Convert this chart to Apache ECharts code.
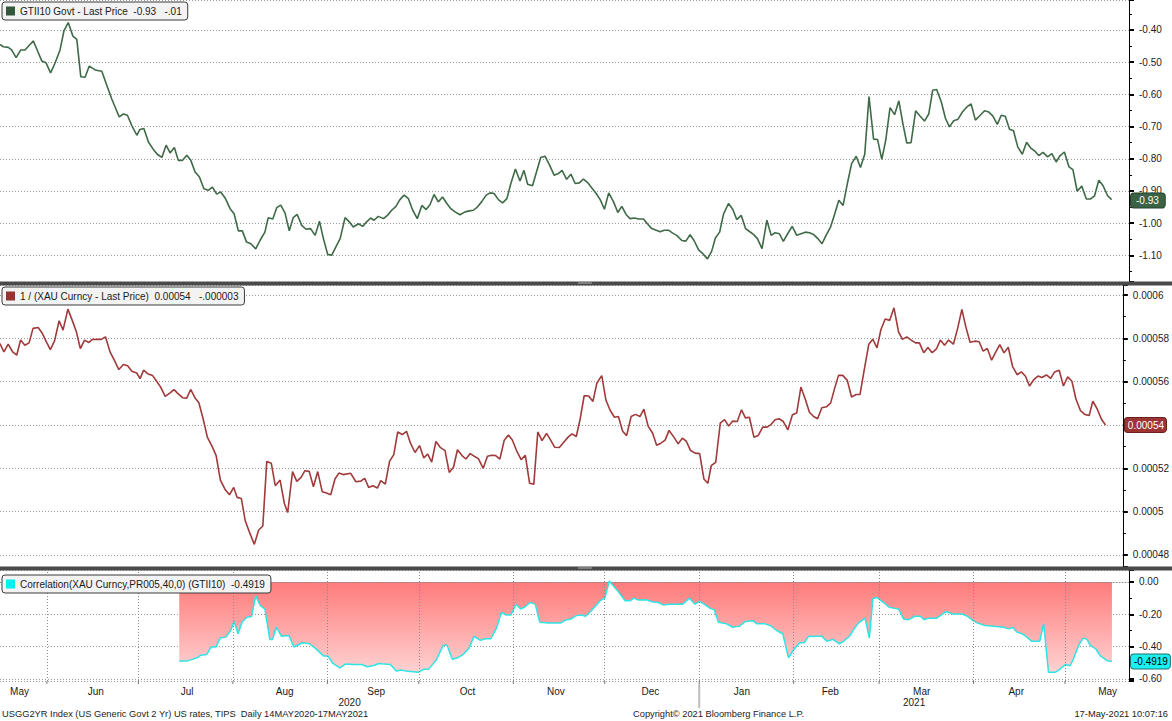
<!DOCTYPE html>
<html><head><meta charset="utf-8">
<script src="https://cdn.jsdelivr.net/npm/echarts@6.0.0/dist/echarts.min.js"></script>
<style>html,body{margin:0;padding:0;background:#fff}#c{width:1172px;height:721px}</style>
</head><body><div id="c"></div>
<script>
const DAY = 86400000;
// x values below are calendar days after 14 May 2020
const BASE = Date.UTC(2020, 4, 14);

// GTII10 Govt - Last Price  [day offset, value]
const gtii = [[2.6,-0.445],[3.7,-0.452],[5.3,-0.454],[6.4,-0.462],[7.9,-0.486],[9.4,-0.462],[10.8,-0.462],[13.5,-0.434],[14.8,-0.462],[16.3,-0.496],[17.7,-0.502],[19.2,-0.533],[20.6,-0.504],[22.3,-0.462],[23.6,-0.402],[25.0,-0.377],[26.5,-0.419],[27.8,-0.429],[29.1,-0.545],[30.5,-0.547],[31.9,-0.512],[33.8,-0.524],[36.0,-0.528],[37.6,-0.571],[39.2,-0.613],[40.7,-0.647],[41.7,-0.670],[43.1,-0.661],[44.4,-0.665],[45.8,-0.696],[47.5,-0.727],[48.5,-0.709],[49.8,-0.706],[51.3,-0.748],[52.9,-0.771],[54.2,-0.786],[55.7,-0.796],[57.1,-0.758],[58.4,-0.782],[59.8,-0.765],[61.1,-0.805],[62.5,-0.805],[63.9,-0.789],[65.2,-0.805],[66.6,-0.841],[68.0,-0.856],[69.5,-0.893],[70.9,-0.898],[72.3,-0.888],[73.7,-0.910],[75.0,-0.903],[76.4,-0.921],[78.1,-0.955],[79.4,-0.971],[80.8,-1.024],[82.1,-1.024],[83.5,-1.059],[84.9,-1.064],[86.5,-1.080],[87.9,-1.054],[89.5,-1.028],[90.6,-0.983],[92.1,-0.987],[93.4,-0.952],[94.7,-0.944],[96.1,-0.968],[97.5,-1.024],[98.8,-0.983],[100.1,-0.973],[101.6,-1.007],[103.0,-1.019],[104.5,-1.017],[106.0,-1.038],[107.4,-0.994],[108.7,-1.048],[110.1,-1.097],[111.4,-1.100],[112.8,-1.074],[114.2,-1.048],[115.8,-0.983],[117.2,-0.996],[118.5,-1.012],[120.2,-1.002],[121.6,-1.010],[122.9,-0.996],[124.2,-0.984],
[125.3,-0.991],[126.7,-0.979],[128.4,-0.986],[129.7,-0.976],[131.1,-0.960],[132.5,-0.948],[133.8,-0.927],[135.2,-0.913],[136.6,-0.924],[138.0,-0.960],[139.5,-0.986],[141.0,-0.945],[142.4,-0.958],[143.7,-0.942],[145.0,-0.911],[146.4,-0.934],[147.8,-0.919],[149.2,-0.939],[150.5,-0.955],[151.9,-0.965],[153.5,-0.974],[155.2,-0.965],[156.6,-0.962],[157.9,-0.960],[159.2,-0.950],[160.6,-0.934],[162.1,-0.913],[163.4,-0.906],[164.7,-0.908],[166.1,-0.927],[167.5,-0.937],[168.9,-0.924],[170.2,-0.877],[171.7,-0.832],[173.2,-0.869],[174.5,-0.836],[175.7,-0.879],[177.3,-0.884],[178.7,-0.838],[180.0,-0.796],[181.4,-0.792],[182.9,-0.820],[184.4,-0.851],[185.8,-0.846],[187.0,-0.836],[188.5,-0.864],[189.9,-0.848],[191.3,-0.877],[192.7,-0.875],[194.0,-0.863],[195.4,-0.874],[196.7,-0.890],[198.2,-0.908],[199.5,-0.927],[200.9,-0.957],[202.3,-0.906],[203.9,-0.934],[205.3,-0.967],[206.6,-0.948],[208.0,-0.973],[209.3,-0.986],[210.8,-0.984],[212.1,-0.987],[213.7,-0.987],[215.0,-1.002],[216.4,-1.017],[217.9,-1.022],[219.2,-1.027],[220.5,-1.022],[221.9,-1.022],[223.3,-1.031],[224.6,-1.038],[226.3,-1.054],[227.6,-1.056],[229.0,-1.036],[230.3,-1.054],[231.8,-1.083],[233.2,-1.095],[234.7,-1.111],[236.1,-1.087],[237.3,-1.046],[238.7,-1.028],[240.0,-0.971],[241.6,-0.939],[243.0,-0.957],[244.3,-0.989],[245.8,-0.976],[247.2,-1.017],[248.5,-1.026],
[249.8,-1.035],[251.1,-1.048],[252.6,-1.079],[254.2,-0.991],[255.6,-1.038],[256.9,-1.030],[258.3,-1.033],[259.6,-1.057],[261.0,-1.033],[262.5,-1.010],[264.0,-1.038],[265.4,-1.033],[266.8,-1.028],[268.2,-1.030],[269.5,-1.035],[270.9,-1.048],[272.3,-1.064],[273.6,-1.038],[275.0,-1.014],[276.4,-0.973],[277.8,-0.929],[279.2,-0.945],[280.6,-0.877],[282.0,-0.815],[283.5,-0.792],[284.9,-0.827],[286.3,-0.786],[287.7,-0.607],[289.2,-0.739],[290.5,-0.740],[291.9,-0.802],[293.2,-0.742],[294.6,-0.641],[296.1,-0.663],[297.5,-0.620],[298.8,-0.690],[300.1,-0.751],[301.5,-0.750],[303.0,-0.651],[304.5,-0.668],[305.9,-0.683],[307.3,-0.661],[308.6,-0.587],[309.9,-0.585],[311.4,-0.623],[312.8,-0.675],[314.1,-0.701],[315.5,-0.682],[316.9,-0.677],[318.4,-0.654],[319.8,-0.639],[321.2,-0.630],[322.6,-0.680],[324.2,-0.665],[325.6,-0.651],[327.0,-0.655],[328.3,-0.667],[329.8,-0.693],[331.1,-0.665],[332.4,-0.668],[333.8,-0.708],[335.1,-0.713],[336.5,-0.763],[338.0,-0.786],[339.4,-0.749],[340.7,-0.766],[342.1,-0.776],[343.4,-0.790],[344.8,-0.780],[346.3,-0.794],[347.7,-0.784],[349.1,-0.810],[350.4,-0.790],[351.8,-0.779],[353.3,-0.825],[354.6,-0.834],[356.0,-0.901],[357.5,-0.885],[359.0,-0.925],[360.4,-0.925],[361.7,-0.915],[363.1,-0.867],[364.5,-0.884],[366.0,-0.915],[367.3,-0.927]];

// 1 / (XAU Curncy - Last Price)  [day offset, value]
const xau = [[2.6,0.0005776],[3.9,0.0005737],[5.3,0.0005773],[6.8,0.0005737],[8.1,0.0005722],[9.4,0.0005792],[10.8,0.0005768],[12.2,0.0005779],[13.5,0.0005846],[15.2,0.0005850],[16.6,0.0005822],[17.9,0.0005784],[19.2,0.0005748],[20.6,0.0005788],[22.1,0.0005881],[23.4,0.0005838],[25.0,0.0005935],[26.4,0.0005884],[27.8,0.0005830],[29.1,0.0005753],[30.5,0.0005792],[31.9,0.0005781],[33.2,0.0005796],[34.6,0.0005795],[36.0,0.0005795],[37.4,0.0005807],[38.9,0.0005737],[40.3,0.0005699],[41.8,0.0005656],[43.3,0.0005679],[44.7,0.0005673],[46.1,0.0005648],[47.7,0.0005640],[48.8,0.0005614],[50.0,0.0005653],[51.3,0.0005637],[52.9,0.0005629],[54.2,0.0005603],[55.6,0.0005575],[57.1,0.0005532],[58.6,0.0005547],[60.0,0.0005563],[61.4,0.0005544],[62.8,0.0005526],[64.2,0.0005524],[65.5,0.0005564],[66.9,0.0005526],[68.2,0.0005503],[69.6,0.0005429],[71.0,0.0005344],[72.6,0.0005300],[73.9,0.0005259],[75.3,0.0005146],[76.8,0.0005104],[78.3,0.0005078],[79.7,0.0005112],[80.8,0.0005066],[82.2,0.0005061],[83.5,0.0004958],[84.8,0.0004908],[86.5,0.0004849],[87.9,0.0004914],[89.3,0.0004934],[90.6,0.0005232],[92.1,0.0005223],[93.4,0.0005120],[95.0,0.0005146],[96.4,0.0005038],[97.5,0.0004996],[99.1,0.0005185],[100.5,0.0005140],[101.9,0.0005158],[103.2,0.0005189],[104.6,0.0005186],[106.0,0.0005115],[107.4,0.0005185],[108.9,0.0005092],[110.3,0.0005086],[111.7,0.0005078],[113.1,0.0005151],[114.4,0.0005178],[115.8,0.0005171],[118.3,0.0005177],[120.0,0.0005138],[121.6,0.0005141],[122.9,0.0005154],[124.2,0.0005112],[125.6,0.0005120],[127.1,0.0005109],
[128.2,0.0005143],[129.7,0.0005127],[131.1,0.0005232],[132.5,0.0005263],[133.8,0.0005368],[135.3,0.0005356],[136.7,0.0005371],[138.0,0.0005316],[139.5,0.0005273],[141.0,0.0005305],[142.4,0.0005248],[143.7,0.0005266],[145.0,0.0005229],[146.4,0.0005324],[147.8,0.0005297],[149.4,0.0005282],[150.8,0.0005181],[152.2,0.0005205],[153.5,0.0005286],[155.0,0.0005259],[156.3,0.0005243],[157.7,0.0005268],[159.0,0.0005256],[160.4,0.0005245],[162.0,0.0005200],[163.4,0.0005256],[164.8,0.0005260],[166.1,0.0005259],[167.5,0.0005243],[168.9,0.0005328],[170.3,0.0005354],[171.6,0.0005331],[173.0,0.0005282],[174.5,0.0005240],[175.9,0.0005260],[177.3,0.0005131],[178.7,0.0005127],[180.0,0.0005368],[181.4,0.0005328],[182.9,0.0005361],[184.2,0.0005331],[185.6,0.0005297],[187.1,0.0005296],[188.5,0.0005319],[190.0,0.0005344],[191.3,0.0005359],[192.7,0.0005347],[194.0,0.0005429],[195.3,0.0005535],[196.8,0.0005534],[198.2,0.0005509],[199.5,0.0005594],[201.1,0.0005628],[202.5,0.0005514],[203.9,0.0005467],[205.3,0.0005436],[206.6,0.0005439],[208.0,0.0005371],[209.3,0.0005351],[210.8,0.0005439],[212.2,0.0005449],[213.7,0.0005439],[215.0,0.0005473],[216.4,0.0005395],[217.9,0.0005362],[219.2,0.0005307],[220.6,0.0005316],[222.0,0.0005330],[223.3,0.0005375],[224.9,0.0005344],[226.3,0.0005313],[227.7,0.0005339],[229.0,0.0005325],[230.4,0.0005282],[231.9,0.0005270],[233.4,0.0005268],[234.8,0.0005151],[236.1,0.0005131],[237.2,0.0005212],[238.7,0.0005228],[240.2,0.0005409],[241.6,0.0005425],[243.0,0.0005395],[244.3,0.0005418],[245.8,0.0005416],[247.2,0.0005470],[248.5,0.0005433],
[249.8,0.0005436],[251.3,0.0005344],[252.7,0.0005351],[254.2,0.0005390],[255.6,0.0005390],[256.9,0.0005402],[258.3,0.0005424],[259.6,0.0005429],[261.0,0.0005416],[262.5,0.0005378],[264.0,0.0005447],[265.4,0.0005455],[266.8,0.0005575],[268.3,0.0005517],[269.6,0.0005459],[271.0,0.0005439],[272.3,0.0005429],[273.7,0.0005480],[275.2,0.0005484],[276.6,0.0005501],[277.9,0.0005568],[279.2,0.0005629],[280.6,0.0005629],[282.1,0.0005606],[283.5,0.0005529],[285.0,0.0005541],[286.3,0.0005541],[287.7,0.0005656],[289.2,0.0005773],[290.5,0.0005796],[291.9,0.0005756],[293.2,0.0005841],[294.6,0.0005889],[296.1,0.0005883],[297.5,0.0005941],[299.0,0.0005830],[300.3,0.0005795],[301.7,0.0005807],[303.2,0.0005792],[304.6,0.0005779],[305.9,0.0005779],[307.3,0.0005734],[308.7,0.0005758],[310.1,0.0005734],[311.5,0.0005751],[312.8,0.0005792],[314.2,0.0005768],[315.5,0.0005792],[317.1,0.0005773],[318.5,0.0005846],[319.9,0.0005934],[321.2,0.0005853],[322.6,0.0005782],[324.2,0.0005787],[325.6,0.0005784],[326.9,0.0005741],[328.3,0.0005753],[329.7,0.0005699],[331.1,0.0005737],[332.4,0.0005771],[333.8,0.0005733],[335.2,0.0005759],[336.6,0.0005671],[338.1,0.0005632],[339.5,0.0005645],[340.9,0.0005625],[342.2,0.0005580],[343.6,0.0005609],[345.0,0.0005626],[346.3,0.0005619],[347.8,0.0005631],[349.2,0.0005615],[350.5,0.0005645],[352.0,0.0005653],[353.4,0.0005580],[354.8,0.0005622],[356.2,0.0005602],[357.5,0.0005521],[359.0,0.0005467],[360.4,0.0005449],[361.9,0.0005444],[363.1,0.0005510],[364.5,0.0005475],[366.0,0.0005425],[367.3,0.0005400]];

// Correlation(XAU Curncy,PR005,40,0) (GTII10)  [day offset, value]
const corr = [[61.4,-0.488],[64.1,-0.488],[65.4,-0.480],[67.3,-0.469],[68.5,-0.453],[70.4,-0.449],[71.9,-0.402],[73.5,-0.402],[74.8,-0.347],[76.7,-0.341],[78.3,-0.300],[79.4,-0.245],[80.7,-0.320],[82.0,-0.249],[83.6,-0.218],[85.1,-0.214],[86.5,-0.086],[88.0,-0.147],[89.5,-0.167],[91.1,-0.355],[92.0,-0.355],[93.3,-0.280],[94.9,-0.335],[97.4,-0.331],[99.0,-0.402],[101.8,-0.376],[104.1,-0.382],[106.2,-0.412],[108.7,-0.457],[110.2,-0.457],[111.8,-0.504],[114.1,-0.531],[115.9,-0.508],[118.8,-0.510],[121.3,-0.510],[123.1,-0.524],[125.0,-0.518],[126.9,-0.504],[128.8,-0.508],[130.7,-0.510],[132.6,-0.551],[134.4,-0.545],[135.7,-0.551],[138.2,-0.555],[139.8,-0.559],[141.7,-0.539],[143.2,-0.539],[145.7,-0.484],[148.0,-0.392],[149.3,-0.392],[151.0,-0.478],[152.7,-0.469],[154.5,-0.449],[156.4,-0.412],[158.1,-0.337],[160.2,-0.361],[161.8,-0.351],[163.6,-0.351],[165.5,-0.286],[167.1,-0.188],[168.6,-0.204],[170.2,-0.204],[171.9,-0.137],[173.4,-0.167],[174.9,-0.153],[176.5,-0.127],[178.2,-0.137],[179.7,-0.249],[182.4,-0.253],[186.6,-0.253],[188.2,-0.235],[189.9,-0.229],[191.6,-0.208],[193.5,-0.204],[194.7,-0.212],[196.6,-0.178],
[199.5,-0.116],[201.1,-0.096],[202.5,0.006],[203.8,-0.024],[205.5,-0.061],[207.7,-0.116],[209.3,-0.116],[210.6,-0.100],[212.0,-0.112],[214.8,-0.110],[216.4,-0.122],[218.6,-0.127],[220.3,-0.143],[221.9,-0.137],[224.6,-0.137],[226.6,-0.137],[228.8,-0.100],[230.6,-0.137],[232.1,-0.120],[233.6,-0.137],[235.6,-0.163],[236.9,-0.171],[238.3,-0.249],[241.0,-0.259],[243.0,-0.280],[245.2,-0.273],[247.1,-0.245],[249.6,-0.239],[250.9,-0.259],[253.6,-0.259],[255.3,-0.269],[257.4,-0.300],[259.4,-0.320],[261.3,-0.469],[262.9,-0.422],[264.9,-0.376],[266.4,-0.376],[267.8,-0.337],[270.6,-0.335],[272.2,-0.335],[273.9,-0.367],[275.8,-0.355],[278.0,-0.382],[279.3,-0.367],[281.5,-0.331],[282.8,-0.290],[284.3,-0.253],[286.4,-0.224],[287.8,-0.347],[289.0,-0.102],[290.3,-0.096],[292.5,-0.127],[294.4,-0.157],[297.4,-0.167],[299.0,-0.229],[300.7,-0.233],[302.8,-0.212],[304.5,-0.212],[305.8,-0.233],[307.2,-0.224],[309.9,-0.224],[313.0,-0.184],[315.4,-0.198],[318.2,-0.198],[320.0,-0.212],[321.4,-0.233],[323.1,-0.253],[325.8,-0.269],[328.6,-0.273],[331.8,-0.280],[333.5,-0.290],[334.9,-0.282],[336.2,-0.310],[337.9,-0.320],[339.5,-0.341],[341.1,-0.367],[343.7,-0.367],[345.0,-0.259],[346.6,-0.559],[348.8,-0.559],[350.4,-0.539],[352.1,-0.510],[353.7,-0.518],[354.8,-0.473],[356.5,-0.392],[357.9,-0.347],[359.2,-0.355],[360.3,-0.392],[362.2,-0.416],[363.6,-0.457],[365.7,-0.485],[367.4,-0.4919]];

const seriesNames = [
  'GTII10 Govt - Last Price  -0.93   -.01',
  '1 / (XAU Curncy - Last Price)  0.00054   -.000003',
  'Correlation(XAU Curncy,PR005,40,0) (GTII10)  -0.4919'
];
const lastValues = [-0.93, 0.00054, -0.4919];
const lastLabels = ['-0.93', '0.00054', '-0.4919'];
const monthStarts = ['2020-06-01','2020-07-01','2020-08-01','2020-09-01','2020-10-01','2020-11-01','2020-12-01','2021-01-01','2021-02-01','2021-03-01','2021-04-01','2021-05-01'];
const monthLabels = ['May','Jun','Jul','Aug','Sep','Oct','Nov','Dec','Jan','Feb','Mar','Apr','May'];
const monthLabelDates = ['2020-05-23','2020-06-17','2020-07-17','2020-08-18','2020-09-17','2020-10-17','2020-11-15','2020-12-16','2021-01-15','2021-02-13','2021-03-15','2021-04-15','2021-05-15'];
const yearLabels = ['2020','2021'];
const yearBounds = ['2020-01-01','2021-01-01','2022-01-01'];
const footerTexts = [
  'USGG2YR Index (US Generic Govt 2 Yr) US rates, TIPS  Daily 14MAY2020-17MAY2021',
  'Copyright\u00a9 2021 Bloomberg Finance L.P.',
  '17-May-2021 10:07:16'
];

const FONT = "'Liberation Sans', Arial, sans-serif";
const parseDate = s => { const p = s.split('-').map(Number); return Date.UTC(p[0], p[1]-1, p[2]); };
const toTime = arr => arr.map(p => [BASE + p[0]*DAY, p[1]]);
const xMin = BASE + 2.6*DAY, xMax = BASE + 373.0*DAY;

const grids = [
  {left:0, top:0, width:1129, height:282},
  {left:0, top:285, width:1129, height:282},
  {left:0, top:570, width:1129, height:111}
];
const yRanges = [[-1.1829, -0.3068, 0.1], [0.00047446, 0.00060462, 0.00002], [-0.6124, 0.0742, 0.2]];
const fmts = [
  v => v.toFixed(2),
  v => parseFloat(v.toFixed(6)).toString(),
  v => (Math.abs(v) < 1e-9 ? 0 : v).toFixed(2)
];
const badge = [
  {bg:'#3b6243', fg:'#ffffff', bd:'#27432c', pad:[2,6,2,5]},
  {bg:'#9c3434', fg:'#ffffff', bd:'#6e2020', pad:[2,2,2,3]},
  {bg:'#19f0f0', fg:'#000000', bd:'#207070', pad:[2,2,2,3]}
];

const yAxes = yRanges.map((r, i) => {
  const step = r[2];
  const isNice = v => Math.abs(v/step - Math.round(v/step)) < 1e-6;
  const hidden = v => Math.abs(v - lastValues[i]) < step * 0.05; // label covered by last-value badge
  return {
    type:'value', gridIndex:i, position:'right', min:r[0], max:r[1], z: i === 2 ? 3 : 0,
    minInterval: step, maxInterval: step,
    axisLine:{show:true, lineStyle:{color:'#000', width:1}},
    axisTick:{show:true, length:5, lineStyle:{color:'#000', width:2}},
    minorTick:{show:true, splitNumber:2, length:3, lineStyle:{color:'#000', width:1}},
    axisLabel:{show:true, margin:10, color:'#1b1b2b', fontSize:10, fontFamily:FONT,
      formatter: v => (isNice(v) && !hidden(v)) ? fmts[i](v) : ''},
    splitLine:{show:true, lineStyle:{color:'#9a9a9a', width:1, type:[1,2]}},
    axisPointer:{show:true, value:lastValues[i], status:'show', snap:false, triggerTooltip:false,
      lineStyle:{opacity:0},
      label:{show:true, formatter:() => lastLabels[i], backgroundColor:badge[i].bg, color:badge[i].fg,
        borderColor:badge[i].bd, borderWidth:1, padding:badge[i].pad, fontSize:10, fontFamily:FONT, margin:2}}
  };
});

const xAxes = [0,1,2].map(i => ({
  type:'time', gridIndex:i, min:xMin, max:xMax, show: i === 2, z:3,
  axisLabel:{show:false},
  axisLine:{show:true, lineStyle:{color:'#8a8a8a', type:[1,2]}},
  axisTick:{show:false},
  splitLine:{show:false},
  axisPointer:{show:false}
}));

const legendTops = [2, 287, 575];
const option = {
  animation:false,
  backgroundColor:'#ffffff',
  grid:grids,
  xAxis:xAxes,
  yAxis:yAxes,
  title: [
    {text:footerTexts[0], left:2, top:709, padding:0, textStyle:{fontSize:9.3, fontWeight:'normal', color:'#222', fontFamily:FONT}},
    {text:footerTexts[1], left:633, top:709, padding:0, textStyle:{fontSize:9.3, fontWeight:'normal', color:'#222', fontFamily:FONT}},
    {text:footerTexts[2], right:4, top:709, padding:0, textStyle:{fontSize:9.3, fontWeight:'normal', color:'#222', fontFamily:FONT}}
  ],
  legend: seriesNames.map((n, i) => ({
    data:[n], left:2, top:legendTops[i], icon:'rect', itemWidth:9, itemHeight:9, itemGap:0, z:10,
    padding:[4,6,4,4], backgroundColor:'#f3f3f3', borderColor:'#3a3a3a', borderWidth:1, borderRadius:3,
    selectedMode:false, textStyle:{fontSize:10, fontFamily:FONT, color:'#1a1a1a'}
  })),
  series: [
    {name:seriesNames[0], type:'line', xAxisIndex:0, yAxisIndex:0, data:toTime(gtii), showSymbol:false, symbol:'none',
      lineStyle:{color:'#3f6a47', width:1.6}, itemStyle:{color:'#33573a'}},
    {name:seriesNames[1], type:'line', xAxisIndex:1, yAxisIndex:1, data:toTime(xau), showSymbol:false, symbol:'none',
      lineStyle:{color:'#a13a3a', width:1.6}, itemStyle:{color:'#9a3030'}},
    {name:seriesNames[2], type:'line', xAxisIndex:2, yAxisIndex:2, data:toTime(corr), showSymbol:false, symbol:'none',
      lineStyle:{color:'#2ee4e4', width:1.5}, itemStyle:{color:'#00f0f0'},
      areaStyle:{opacity:1, color:new echarts.graphic.LinearGradient(0,0,0,1,[{offset:0,color:'#ff7a7a'},{offset:1,color:'#ffd2d2'}])},
      markLine:{silent:true, symbol:'none', animation:false, label:{show:false},
        lineStyle:{color:'#8a8a8a', width:1, type:[1,2]},
        data: monthStarts.map(d => ({xAxis: parseDate(d)}))}}
  ]
};

const chart = echarts.init(document.getElementById('c'), null, {renderer:'svg'});
chart.setOption(option);

const px = t => chart.convertToPixel({xAxisIndex:2}, t);
const left = px(xMin), right = px(xMax);
const gr = [];
[[281.5,4],[566.5,4]].forEach(s => gr.push({type:'rect', z:100, shape:{x:0, y:s[0], width:1172, height:s[1]}, style:{fill:'#4a4a4a'}}));
[282.5, 567.5].forEach(y => gr.push({type:'rect', z:101, shape:{x:578, y:y, width:14, height:1}, style:{fill:'#b0b0b0'}}));
monthStarts.forEach(d => { const x = px(parseDate(d)); gr.push({type:'line', z:50, shape:{x1:x, y1:681, x2:x, y2:684}, style:{stroke:'#777', lineWidth:1}}); });
monthLabels.forEach((m, i) => gr.push({type:'text', z:50, x:px(parseDate(monthLabelDates[i])), y:691,
  style:{text:m, align:'center', verticalAlign:'middle', fontSize:10, fontFamily:FONT, fill:'#1a1a1a'}}));
yearLabels.forEach((yl, i) => {
  const a = Math.max(left, px(parseDate(yearBounds[i])));
  const b = Math.min(right, px(parseDate(yearBounds[i+1])));
  gr.push({type:'text', z:50, x:(a+b)/2, y:702, style:{text:yl, align:'center', verticalAlign:'middle', fontSize:10, fontFamily:FONT, fill:'#1a1a1a'}});
});
const xDiv = px(parseDate(yearBounds[1]));
gr.push({type:'line', z:50, shape:{x1:xDiv, y1:684, x2:xDiv, y2:708}, style:{stroke:'#bdbdbd', lineWidth:2}});
chart.setOption({graphic:gr});
</script></body></html>
